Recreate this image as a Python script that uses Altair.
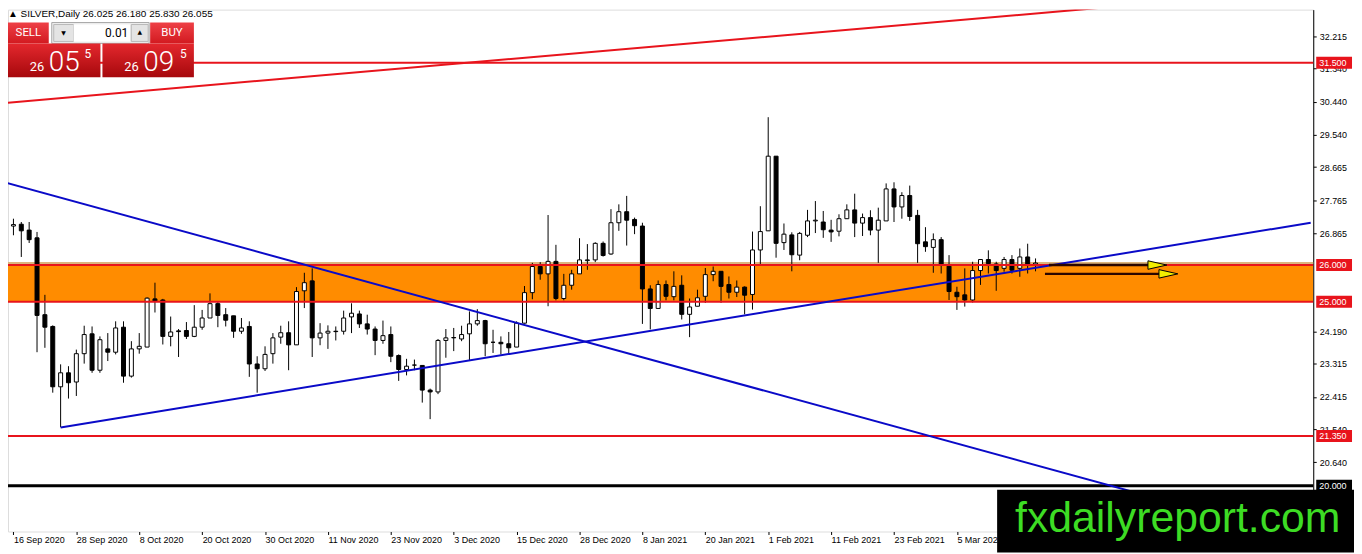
import altair as alt
import pandas as pd

# ---------------- data ----------------
bar_open = [27.06, 27.11, 26.95, 26.74, 24.65, 24.33, 22.69, 23.07, 22.82, 23.59,
            24.13, 23.14, 23.72, 23.63, 24.31, 22.98, 23.72, 23.77, 25.08, 25.05,
            24.06, 24.21, 24.22, 24.06, 24.31, 24.56, 24.95, 24.65, 24.62, 24.20,
            24.33, 23.31, 23.18, 23.59, 24.04, 24.16, 23.83, 25.30, 25.57, 24.02,
            24.15, 24.20, 24.20, 24.59, 24.67, 24.40, 24.26, 23.95, 24.11, 23.54,
            23.16, 23.28, 23.27, 22.60, 22.55, 23.95, 24.03, 23.99, 24.13, 24.40,
            24.49, 23.90, 23.90, 23.86, 23.77, 24.42, 25.25, 25.96, 25.76, 26.10,
            25.09, 25.45, 25.76, 26.12, 26.14, 26.59, 26.30, 27.15, 27.45, 27.24,
            27.06, 25.35, 24.82, 25.47, 25.14, 25.45, 24.66, 24.88, 25.15, 25.74,
            25.83, 25.47, 25.26, 25.40, 25.20, 26.41, 26.93, 28.96, 26.61, 26.82,
            26.27, 26.81, 27.20, 27.17, 26.95, 26.92, 27.26, 27.50, 27.14, 27.29,
            26.95, 27.20, 28.07, 27.58, 27.89, 27.35, 26.63, 26.48, 26.69, 25.97,
            25.26, 25.19, 25.05, 25.85, 26.15, 26.03, 25.91, 26.15, 25.91, 26.22,
            26.025]
bar_high = [27.26, 27.17, 27.17, 26.90, 25.19, 24.36, 23.30, 23.25, 23.70, 24.35,
            24.33, 24.06, 24.15, 24.47, 24.47, 23.93, 24.15, 25.12, 25.52, 25.08,
            24.60, 24.26, 24.45, 24.91, 24.78, 25.23, 25.01, 24.83, 24.62, 24.56,
            24.47, 23.52, 23.79, 24.15, 24.35, 24.47, 25.40, 25.79, 25.91, 24.42,
            24.36, 24.33, 24.76, 24.96, 24.76, 24.65, 24.33, 24.49, 24.33, 23.57,
            23.45, 23.43, 23.27, 22.64, 23.99, 24.26, 24.29, 24.35, 24.74, 24.80,
            24.51, 24.24, 24.06, 24.18, 24.47, 25.43, 26.06, 26.08, 27.36, 26.55,
            25.76, 25.87, 26.73, 26.57, 26.62, 26.64, 27.52, 27.65, 27.88, 27.29,
            27.15, 25.45, 25.58, 25.58, 25.83, 25.72, 25.09, 25.33, 25.92, 25.96,
            25.83, 25.69, 25.58, 25.42, 26.91, 27.60, 30.02, 28.96, 27.13, 26.89,
            26.90, 27.50, 27.74, 27.47, 27.23, 27.38, 27.65, 27.94, 27.40, 27.49,
            27.56, 28.22, 28.25, 27.98, 28.16, 27.50, 27.03, 26.86, 26.76, 26.27,
            25.41, 25.91, 26.09, 26.16, 26.40, 26.09, 26.22, 26.27, 26.45, 26.58,
            26.180]
bar_low = [26.81, 26.22, 26.60, 23.63, 23.75, 22.53, 21.59, 22.37, 22.44, 23.32,
           23.07, 23.07, 23.39, 23.57, 22.80, 22.94, 23.59, 23.77, 24.71, 23.84,
           23.79, 23.50, 23.99, 24.04, 24.24, 24.56, 24.31, 24.33, 24.02, 24.13,
           22.96, 22.53, 23.12, 23.32, 23.86, 23.14, 23.83, 24.83, 23.50, 23.82,
           23.72, 23.95, 24.11, 24.15, 24.29, 24.11, 23.55, 23.86, 23.36, 22.85,
           23.00, 23.14, 22.26, 21.81, 22.49, 23.48, 23.66, 23.93, 23.39, 24.35,
           23.52, 23.61, 23.57, 23.60, 23.77, 24.41, 25.07, 25.60, 24.88, 25.04,
           25.04, 25.33, 25.76, 25.87, 26.08, 26.23, 26.28, 26.93, 26.53, 26.84,
           24.40, 24.25, 24.82, 25.04, 25.04, 24.52, 24.04, 24.88, 24.97, 25.56,
           24.97, 25.09, 25.13, 24.66, 24.79, 26.03, 26.93, 26.20, 26.41, 25.83,
           26.13, 26.76, 26.87, 26.74, 26.63, 26.78, 27.26, 26.76, 26.79, 26.81,
           26.06, 27.20, 27.17, 27.26, 27.20, 26.06, 26.36, 25.79, 25.77, 25.05,
           24.78, 24.87, 24.98, 25.46, 25.77, 25.30, 25.82, 25.77, 25.68, 25.77,
           25.830]
bar_close = [27.10, 26.93, 26.69, 24.63, 24.31, 22.69, 23.07, 22.80, 23.59, 24.11,
             23.14, 23.97, 23.63, 24.29, 22.98, 23.72, 23.79, 25.10, 25.01, 24.06,
             24.18, 24.19, 24.06, 24.31, 24.56, 24.95, 24.63, 24.50, 24.20, 24.29,
             23.31, 23.18, 23.57, 24.02, 24.16, 23.83, 25.28, 25.52, 24.02, 24.15,
             24.20, 24.19, 24.56, 24.69, 24.40, 24.26, 23.95, 24.08, 23.52, 23.16,
             23.25, 23.28, 22.60, 22.55, 23.95, 24.02, 24.02, 24.11, 24.40, 24.49,
             23.86, 23.90, 23.86, 23.75, 24.42, 25.25, 25.96, 25.76, 26.10, 25.09,
             25.45, 25.76, 26.14, 26.14, 26.59, 26.26, 27.15, 27.45, 27.22, 27.07,
             25.35, 24.82, 25.47, 25.15, 25.42, 24.66, 24.86, 25.11, 25.74, 25.83,
             25.42, 25.26, 25.40, 25.18, 26.41, 26.91, 28.96, 26.59, 26.84, 26.28,
             26.86, 27.20, 27.22, 26.96, 26.90, 27.26, 27.50, 27.14, 27.29, 26.95,
             27.22, 28.07, 27.58, 27.89, 27.32, 26.58, 26.50, 26.69, 26.03, 25.28,
             25.14, 25.05, 25.85, 26.15, 26.04, 25.85, 26.15, 25.86, 26.22, 26.02,
             26.055]

date_labels = ["16 Sep 2020", "28 Sep 2020", "8 Oct 2020", "20 Oct 2020", "30 Oct 2020",
               "11 Nov 2020", "23 Nov 2020", "3 Dec 2020", "15 Dec 2020", "28 Dec 2020",
               "8 Jan 2021", "20 Jan 2021", "1 Feb 2021", "11 Feb 2021", "23 Feb 2021",
               "5 Mar 2021"]
date_label_bars = [8 * k for k in range(len(date_labels))]

price_ticks = [32.215, 31.340, 30.440, 29.540, 28.665, 27.765, 26.865,
               24.190, 23.315, 22.415, 21.540, 20.640]

red_levels = [31.5, 26.0, 25.0, 21.35]
black_levels = [20.0]
band_low, band_high = 25.0, 26.0

# trend lines: start bar, start price, end bar, end price
blue_x0 = [-1, 6]
blue_y0 = [28.24, 21.585]
blue_x1 = [165, 165]
blue_y1 = [18.51, 27.15]
red_x0 = [-1]
red_y0 = [30.41]
red_x1 = [165]
red_y1 = [33.49]

# arrows: shaft start bar, shaft end bar, head bar, price
arrow_start = [131.7, 131.2]
arrow_end = [144.6, 146.1]
arrow_head = [145.5, 146.9]
arrow_price = [26.0, 25.76]

header_text = "\u25B2 SILVER,Daily  26.025 26.180 25.830 26.055"

# ---------------- chart ----------------
W, H = 1313, 525
RED = "#e8141c"
BLUE = "#0a0ac8"

xs = alt.Scale(domain=[-0.06, 164.69], nice=False, zero=False)
ys = alt.Scale(domain=[18.755, 32.945], nice=False, zero=False)

label_expr = "[" + ",".join("'%s'" % d for d in date_labels) + "][round(datum.value / 8)]"
xaxis = alt.Axis(values=date_label_bars, labelExpr=label_expr, labelAlign="left",
                 labelFlush=False, labelOverlap=False, tickSize=3, labelPadding=1,
                 grid=False, domain=False, tickColor="black", labelColor="black",
                 labelFontSize=9, labelFont="Liberation Sans", title=None)
yaxis = alt.Axis(orient="right", values=price_ticks, format=".3f", tickSize=3,
                 labelPadding=3, grid=False, domainColor="black", tickColor="black",
                 labelColor="black", labelFontSize=9, labelFont="Liberation Sans",
                 labelFlush=False, labelOverlap=False, labelBaseline="middle", title=None)


def X(f):
    return alt.X(f, type="quantitative", scale=xs, axis=xaxis)


def Y(f):
    return alt.Y(f, type="quantitative", scale=ys, axis=yaxis)


candles = pd.DataFrame({"i": list(range(len(bar_open))), "o": bar_open, "h": bar_high,
                        "l": bar_low, "c": bar_close})
one = pd.DataFrame({"k": [0]})

layers = []

# orange band
band_df = pd.DataFrame({"lo": [band_low], "hi": [band_high]})
layers.append(alt.Chart(band_df).mark_rect(color="#ff8c00", clip=True).encode(
    x=alt.value(0), x2=alt.value(W), y=Y("lo"), y2=alt.Y2("hi")))
layers.append(alt.Chart(band_df).mark_rule(color="#dcb47c", strokeWidth=2, yOffset=-2).encode(
    y=Y("hi")))

# candles
cb = alt.Chart(candles)
layers.append(cb.mark_rule(color="black", strokeWidth=1, clip=True).encode(
    x=X("i"), y=Y("l"), y2=alt.Y2("h")))
layers.append(cb.mark_bar(size=4, stroke="black", strokeWidth=1, clip=True).encode(
    x=X("i"), y=Y("o"), y2=alt.Y2("c"),
    fill=alt.condition("datum.c >= datum.o", alt.value("white"), alt.value("black"))))

# horizontal levels
layers.append(alt.Chart(pd.DataFrame({"p": red_levels})).mark_rule(color=RED, strokeWidth=2).encode(
    y=Y("p")))
layers.append(alt.Chart(pd.DataFrame({"p": black_levels})).mark_rule(color="black", strokeWidth=3).encode(
    y=Y("p")))

# trend lines
blue_df = pd.DataFrame({"x0": blue_x0, "y0": blue_y0, "x1": blue_x1, "y1": blue_y1})
red_df = pd.DataFrame({"x0": red_x0, "y0": red_y0, "x1": red_x1, "y1": red_y1})
layers.append(alt.Chart(blue_df).mark_rule(color=BLUE, strokeWidth=2, clip=True).encode(
    x=X("x0"), y=Y("y0"), x2=alt.X2("x1"), y2=alt.Y2("y1")))
layers.append(alt.Chart(red_df).mark_rule(color=RED, strokeWidth=2, clip=True).encode(
    x=X("x0"), y=Y("y0"), x2=alt.X2("x1"), y2=alt.Y2("y1")))

# arrows
arr_df = pd.DataFrame({"s": arrow_start, "e": arrow_end, "hx": arrow_head, "p": arrow_price})
layers.append(alt.Chart(arr_df).mark_rule(color="#2a0600", strokeWidth=2.5).encode(
    x=X("s"), x2=alt.X2("e"), y=Y("p")))
layers.append(alt.Chart(arr_df).mark_point(shape="M-1,-0.45L1,0L-1,0.45Z", size=361, filled=True,
                                           fill="#f2ee00", stroke="black", strokeWidth=1,
                                           opacity=1).encode(x=X("hx"), y=Y("p")))


# ----- trading panel decoration -----
def box(x0, x1, y0, y1, **kw):
    return alt.Chart(one).mark_rect(**kw).encode(
        x=alt.value(x0), x2=alt.value(x1), y=alt.value(y0), y2=alt.value(y1))


def label(txt, x, y, **kw):
    return alt.Chart(one).mark_text(text=txt, **kw).encode(x=alt.value(x), y=alt.value(y))


btn_grad = alt.Gradient(gradient="linear", x1=0, x2=0, y1=0, y2=1,
                        stops=[alt.GradientStop(color="#ee4046", offset=0),
                               alt.GradientStop(color="#d21a20", offset=1)])
box_grad = alt.Gradient(gradient="linear", x1=0, x2=0, y1=0, y2=1,
                        stops=[alt.GradientStop(color="#e4282e", offset=0),
                               alt.GradientStop(color="#a6080c", offset=1)])

layers.append(label(header_text, 0, 4, align="left", baseline="middle", fontSize=10,
                    color="black", font="Liberation Sans"))
layers.append(box(0, 41, 13, 34, color=btn_grad))
layers.append(box(143, 187, 13, 34, color=btn_grad))
layers.append(box(44, 142, 13, 34, fill="#efefef", stroke="#a8a8a8", strokeWidth=1))
layers.append(box(46, 66, 15, 32, fill="#e4e4e4", stroke="#b8b8b8", strokeWidth=1))
layers.append(box(66, 123, 15, 32, fill="white"))
layers.append(box(124, 141, 15, 32, fill="#e4e4e4", stroke="#b8b8b8", strokeWidth=1))
layers.append(label("\u25BC", 56, 24, align="center", baseline="middle", fontSize=6,
                    color="black", font="DejaVu Sans"))
layers.append(label("\u25B2", 132.5, 23, align="center", baseline="middle", fontSize=6,
                    color="black", font="DejaVu Sans"))
layers.append(label("0.01", 121, 24, align="right", baseline="middle", fontSize=12,
                    color="black", font="Roboto"))
layers.append(label("SELL", 20.5, 24, align="center", baseline="middle", fontSize=11.5,
                    color="white", font="Roboto"))
layers.append(label("BUY", 165, 24, align="center", baseline="middle", fontSize=11.5,
                    color="white", font="Roboto"))
layers.append(box(0, 93, 34, 68, color=box_grad))
layers.append(box(95, 187, 34, 68, color=box_grad))
for x_small, x_big, x_sup, big in [(22, 41, 77, "05"), (117, 136, 173, "09")]:
    layers.append(label("26", x_small, 62, align="left", baseline="alphabetic", fontSize=13,
                        color="white", font="Roboto"))
    layers.append(label(big, x_big, 62, align="left", baseline="alphabetic", fontSize=28,
                        color="white", font="Roboto", fontWeight=300))
    layers.append(label("5", x_sup, 49, align="left", baseline="alphabetic", fontSize=12,
                        color="white", font="Roboto"))

# ----- watermark -----
layers.append(box(995, 1354, 483, 546, color="black"))
layers.append(label("fxdailyreport.com", 1013, 525, align="left", baseline="alphabetic",
                    fontSize=43, color="#3ddc24", font="Liberation Sans"))

# ----- price labels on the axis -----
box_shape = "M-1,-0.333L1,-0.333L1,0.333L-1,0.333Z"
red_lab = pd.DataFrame({"p": red_levels})
blk_lab = pd.DataFrame({"p": black_levels})
layers.append(alt.Chart(red_lab).mark_point(shape=box_shape, size=1296, filled=True, color=RED,
                                            opacity=1).encode(x=alt.value(1334), y=Y("p")))
layers.append(alt.Chart(blk_lab).mark_point(shape=box_shape, size=1296, filled=True, color="black",
                                            opacity=1).encode(x=alt.value(1334), y=Y("p")))
for dfl in (red_lab, blk_lab):
    layers.append(alt.Chart(dfl).mark_text(align="left", baseline="middle", fontSize=9,
                                           color="white", font="Liberation Sans").encode(
        x=alt.value(1319), y=Y("p"), text=alt.Text("p:Q", format=".3f")))

chart = alt.layer(*layers).properties(
    width=W, height=H,
    padding={"left": 0, "top": 0, "right": 41, "bottom": 21},
    autosize=alt.AutoSizeParams(type="none"),
).configure_view(stroke="black", strokeWidth=1).configure(font="Liberation Sans")

chart.save("out.html", embed_options={"renderer": "svg", "actions": False})
